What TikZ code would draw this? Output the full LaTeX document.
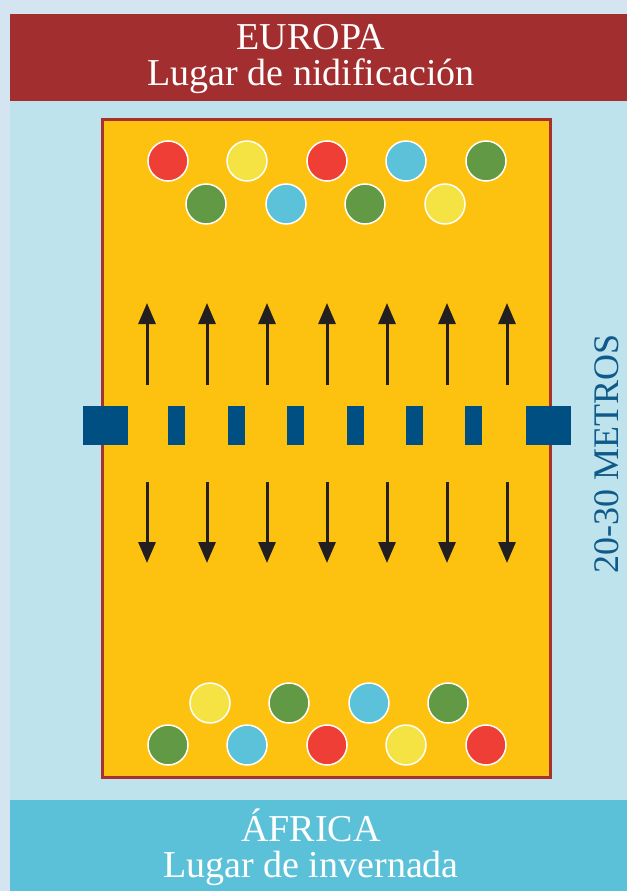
\documentclass[tikz,border=0pt]{standalone}
\usepackage{fontspec}
\setmainfont{Liberation Serif}
\usetikzlibrary{arrows.meta}
\definecolor{outerbg}{HTML}{D5E4F1}
\definecolor{panel}{HTML}{BFE3EC}
\definecolor{redband}{HTML}{A32E30}
\definecolor{cyanband}{HTML}{5BC1D8}
\definecolor{field}{HTML}{FDC210}
\definecolor{fieldborder}{HTML}{A8312E}
\definecolor{barblue}{HTML}{004F82}
\definecolor{arrowc}{HTML}{231F20}
\definecolor{cred}{HTML}{EE3E36}
\definecolor{cyel}{HTML}{F5E343}
\definecolor{cgreen}{HTML}{619944}
\definecolor{cblue}{HTML}{5BC2D9}
\definecolor{metros}{HTML}{0E5A8A}
\tikzset{
  bird/.style={circle, draw=white, line width=1.5pt, minimum size=40pt, inner sep=0pt},
  bigbar/.style={fill=barblue, draw=none, minimum width=45pt, minimum height=39pt, inner sep=0pt},
  smallbar/.style={fill=barblue, draw=none, minimum width=17pt, minimum height=39pt, inner sep=0pt},
  flyarrow/.style={draw=arrowc, line width=3pt, -{Triangle[length=21pt,width=17pt]}},
  title/.style={text=white, align=center, font=\fontsize{38}{36}\selectfont, inner sep=0pt}
}
\begin{document}
\begin{tikzpicture}[x=1pt,y=-1pt]
\useasboundingbox (0,0) rectangle (627,891);
\fill[outerbg] (0,0) rectangle (627,891);
\fill[panel] (10,14) rectangle (627,891);
\fill[redband] (10,14) rectangle (627,101);
\fill[cyanband] (10,800) rectangle (627,891);
\node[title] (europa) at (311,59) {EUROPA\\Lugar de nidificación};
\node[title] (africa) at (311,847) {ÁFRICA\\Lugar de invernada};
\node[draw=fieldborder, line width=3pt, fill=field, minimum width=448pt, minimum height=658pt, inner sep=0pt] (field) at (326.5,448.5) {};
\node[rotate=90, text=metros, font=\fontsize{36}{36}\selectfont, inner sep=0pt] (metros) at (607,454) {20-30 METROS};
% bars
\node[bigbar] (bl) at (105.5,425.5) {};
\node[bigbar] (br) at (548.5,425.5) {};
\foreach \i/\x in {1/176.5,2/236,3/295.5,4/355,5/414.5,6/473.5}
  \node[smallbar] (s\i) at (\x,425.5) {};
% arrows
\foreach \i/\x in {1/147,2/207,3/267,4/327,5/387,6/447,7/507}{
  \coordinate (ut\i) at (\x,385);
  \coordinate (uh\i) at (\x,303);
  \coordinate (dt\i) at (\x,482);
  \coordinate (dh\i) at (\x,563);
  \draw[flyarrow] (ut\i) -- (uh\i);
  \draw[flyarrow] (dt\i) -- (dh\i);
}
% top birds
\foreach \i/\x/\c in {1/168/cred,2/247/cyel,3/327/cred,4/406/cblue,5/486/cgreen}
  \node[bird, fill=\c] (ta\i) at (\x,161) {};
\foreach \i/\x/\c in {1/206/cgreen,2/286/cblue,3/365/cgreen,4/445/cyel}
  \node[bird, fill=\c] (tb\i) at (\x,204) {};
% bottom birds
\foreach \i/\x/\c in {1/210/cyel,2/289/cgreen,3/369/cblue,4/448/cgreen}
  \node[bird, fill=\c] (ba\i) at (\x,703) {};
\foreach \i/\x/\c in {1/168/cgreen,2/247/cblue,3/327/cred,4/406/cyel,5/486/cred}
  \node[bird, fill=\c] (bb\i) at (\x,745) {};
\end{tikzpicture}
\end{document}
